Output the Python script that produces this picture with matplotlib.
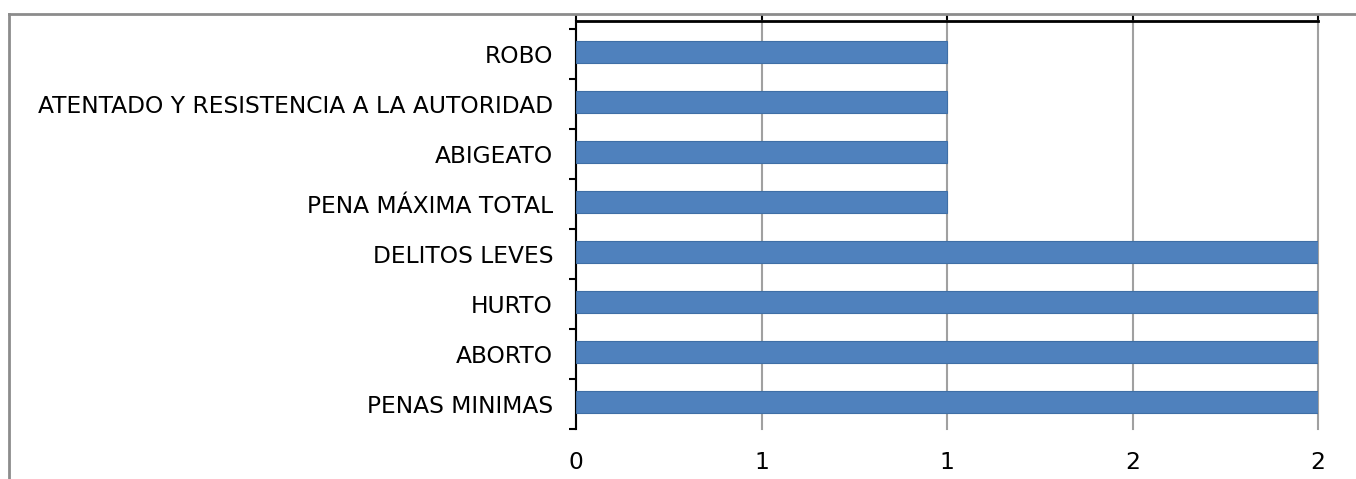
import matplotlib
matplotlib.use("Agg")
import matplotlib.pyplot as plt
from matplotlib.lines import Line2D
import numpy as np

categories = ["ROBO", "ATENTADO Y RESISTENCIA A LA AUTORIDAD", "ABIGEATO",
              "PENA MÁXIMA TOTAL", "DELITOS LEVES", "HURTO", "ABORTO", "PENAS MINIMAS"]
values = [1, 1, 1, 1, 2, 2, 2, 2]
xticks = [0, 0.5, 1, 1.5, 2]
xtick_labels = ["0", "1", "1", "2", "2"]

plt.rcParams['font.family'] = ['DejaVu Sans']

fig = plt.figure(figsize=(13.56, 4.79), dpi=100)
top_px, bot_px = 21, 429
ax = fig.add_axes([576/1356, 1 - bot_px/479, (1318-576)/1356, (bot_px-top_px)/479])

n = len(categories)
y = np.arange(n)
ax.barh(y - 0.04, values, height=0.44, color="#4F81BD", edgecolor="#3F6FA6", linewidth=0.8, zorder=3)
ax.set_ylim(n - 0.5, -0.5 - 8/50)
ax.set_xlim(0, 2)

ax.set_yticks(y)
ax.set_yticklabels(categories, fontsize=16.8)
ax.tick_params(axis='y', which='major', length=0, pad=16.5)
ax.set_yticks(np.arange(-0.5, n, 1), minor=True)
ax.tick_params(axis='y', which='minor', length=5, width=1.5, color='black', direction='out')

ax.set_xticks(xticks)
ax.set_xticklabels(xtick_labels, fontsize=16.8)
ax.tick_params(axis='x', which='major', bottom=True, top=False, length=0, pad=15.5)
ax.xaxis.grid(True, color="#A0A0A0", linewidth=1.5, zorder=0, clip_on=False)
ax.set_axisbelow(True)

for s in ['right', 'bottom']:
    ax.spines[s].set_visible(False)
ax.spines['left'].set_linewidth(1.5)
ax.spines['top'].set_linewidth(2)

# upward tick marks on the top spine
sec = ax.secondary_xaxis('top')
sec.set_xticks(xticks)
sec.set_xticklabels([])
sec.tick_params(length=5, width=1.5, direction='out', color='black')
sec.spines['top'].set_visible(False)

# outer chart border (left and top)
fig.add_artist(Line2D([9/1356, 9/1356], [0, 1 - 14/479], transform=fig.transFigure, color="#8C8C8C", linewidth=2))
fig.add_artist(Line2D([9/1356, 1], [1 - 14/479, 1 - 14/479], transform=fig.transFigure, color="#8C8C8C", linewidth=2))

fig.savefig("out.png", dpi=100)
